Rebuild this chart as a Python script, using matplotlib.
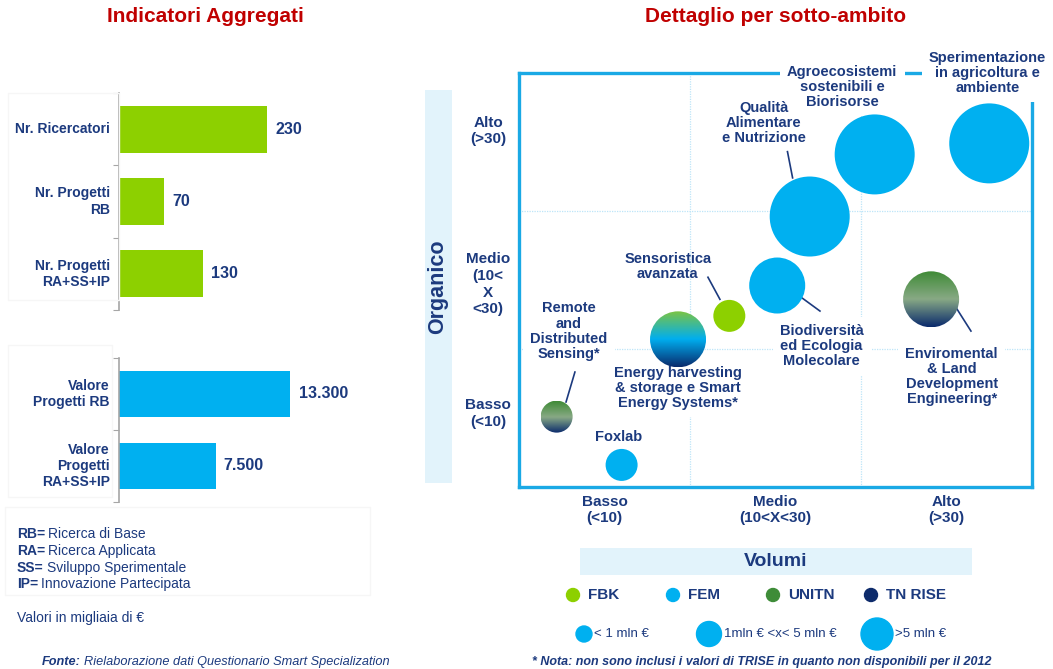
import matplotlib.pyplot as plt
import numpy as np
from matplotlib.patches import Rectangle, Circle, Ellipse
from matplotlib.colors import LinearSegmentedColormap

plt.rcParams['font.family'] = ['Liberation Sans', 'DejaVu Sans']

# dati - indicatori aggregati
count_labels = ['Nr. Ricercatori', 'Nr. Progetti\nRB', 'Nr. Progetti\nRA+SS+IP']
count_values = [230, 70, 130]

value_labels = ['Valore\nProgetti RB', 'Valore\nProgetti\nRA+SS+IP']
value_values = [13300, 7500]  # migliaia di euro

# dati - dettaglio per sotto-ambito (volumi x organico, scala 0-3)
areas = ['Sperimentazione\nin agricoltura e\nambiente',
         'Agroecosistemi\nsostenibili e\nBiorisorse',
         'Qualità\nAlimentare\ne Nutrizione',
         'Biodiversità\ned Ecologia\nMolecolare',
         'Sensoristica\navanzata',
         'Energy harvesting\n& storage e Smart\nEnergy Systems*',
         'Enviromental\n& Land\nDevelopment\nEngineering*',
         'Remote\nand\nDistributed\nSensing*',
         'Foxlab']
area_x = [2.75, 2.08, 1.70, 1.51, 1.23, 0.93, 2.41, 0.22, 0.60]
area_y = [2.49, 2.41, 1.96, 1.46, 1.24, 1.07, 1.36, 0.51, 0.16]
area_vol = [3, 3, 3, 2, 1, 2, 2, 1, 1]  # 1: <1 mln, 2: 1-5 mln, 3: >5 mln
area_owner = ['FEM', 'FEM', 'FEM', 'FEM', 'FBK', 'FBK+FEM+TN RISE',
              'UNITN+TN RISE', 'UNITN+TN RISE', 'FEM']

x_levels = ['Basso\n(<10)', 'Medio\n(10<X<30)', 'Alto\n(>30)']
y_levels = ['Basso\n(<10)', 'Medio\n(10<\nX\n<30)', 'Alto\n(>30)']

owners = ['FBK', 'FEM', 'UNITN', 'TN RISE']
vol_classes = ['< 1 mln €', '1mln € <x< 5 mln €', '>5 mln €']

legend_terms = [('RB=', 'Ricerca di Base'), ('RA=', 'Ricerca Applicata'),
                ('SS=', 'Sviluppo Sperimentale'), ('IP=', 'Innovazione Partecipata')]

# stile
NAVY = '#1C3A7E'
RED = '#C00000'
GREEN = '#8DD000'
CYAN = '#00B0F0'
FRAME = '#1AA9E5'
PALE = '#E2F3FB'
owner_colors = {'FBK': GREEN, 'FEM': CYAN, 'UNITN': '#3E8C38', 'TN RISE': '#0D2B6B'}
gradients = {'FBK+FEM+TN RISE': ['#7CC443', '#00AEEF', '#0A2A6C'],
             'UNITN+TN RISE': ['#3F8B36', '#88A985', '#0A2A6C']}
vol_radius = {1: 16, 2: 28, 3: 40}  # px

# posizioni etichette (unita' del quadrante) e linee di richiamo
label_pos = [(2.74, 3.0), (1.89, 2.9), (1.43, 2.64), (1.77, 1.02), (0.87, 1.60),
             (0.93, 0.72), (2.53, 0.80), (0.29, 1.13), (0.58, 0.36)]
no_box = {2, 4, 8}  # etichette senza sfondo bianco
leaders = {2: ((1.57, 2.43), (1.60, 2.24)), 4: ((1.105, 1.52), (1.175, 1.36)),
           3: ((1.632, 1.391), (1.76, 1.275)), 6: ((2.561, 1.29), (2.643, 1.13)),
           7: ((0.327, 0.833), (0.275, 0.616))}

W, H = 1053, 669
fig = plt.figure(figsize=(W / 100, H / 100), dpi=100)


def px_axes(x0, y0, x1, y1, **kw):
    return fig.add_axes([x0 / W, 1 - y1 / H, (x1 - x0) / W, (y1 - y0) / H], **kw)


def bar_panel(box, labels, values, color, xmax):
    ax = px_axes(*box)
    n = len(values)
    pos = np.arange(n)
    ax.barh(pos, values, height=0.65, color=color)
    ax.set_ylim(n - 0.5, -0.5)
    ax.set_xlim(0, xmax)
    for s in ['top', 'right', 'bottom']:
        ax.spines[s].set_visible(False)
    ax.spines['left'].set_color('#A6A6A6')
    ax.spines['left'].set_linewidth(1.2)
    ax.set_xticks([])
    ax.set_yticks(np.arange(n + 1) - 0.5)
    ax.set_yticklabels([])
    ax.tick_params(axis='y', length=4, color='#A6A6A6')
    ax.patch.set_visible(False)
    tr = ax.get_yaxis_transform()
    for p, lab, v in zip(pos, labels, values):
        ax.text(-0.036, p, lab, transform=tr, ha='right', va='center',
                fontsize=10, fontweight='bold', color=NAVY, linespacing=1.2)
        ax.annotate(f'{v:,}'.replace(',', '.'), (v, p), xytext=(6, 0),
                    textcoords='offset points', va='center', ha='left',
                    fontsize=11.5, fontweight='bold', color=NAVY)
    return ax


bar_panel((119, 93, 370, 310), count_labels, count_values, GREEN, 390)
bar_panel((119, 358, 370, 502), value_labels, value_values, CYAN, 19500)

# quadrante
axq = px_axes(519, 73, 1032, 487)
axq.set_xlim(0, 3)
axq.set_ylim(0, 3)
axq.set_xticks([])
axq.set_yticks([])
for s in axq.spines.values():
    s.set_color(FRAME)
    s.set_linewidth(2.4)
for v in [1, 2]:
    axq.axvline(v, color='#BDE5F8', lw=0.9, ls=(0, (1, 1)), zorder=0)
    axq.axhline(v, color='#BDE5F8', lw=0.9, ls=(0, (1, 1)), zorder=0)

ux = (1032 - 519) / 3
uy = (487 - 73) / 3
for i, (x, y, vol, own) in enumerate(zip(area_x, area_y, area_vol, area_owner)):
    r = vol_radius[vol]
    w, h = 2 * r / ux, 2 * r / uy
    if own in owner_colors:
        axq.add_patch(Ellipse((x, y), w, h, facecolor=owner_colors[own],
                              edgecolor='none', zorder=5))
    else:
        e = Ellipse((x, y), w, h, facecolor='none', edgecolor='none', zorder=5)
        axq.add_patch(e)
        cmap = LinearSegmentedColormap.from_list(own, gradients[own])
        grad = np.linspace(0, 1, 256).reshape(-1, 1)
        im = axq.imshow(grad, cmap=cmap, aspect='auto', origin='upper',
                        extent=[x - w / 2, x + w / 2, y - h / 2, y + h / 2], zorder=5)
        im.set_clip_path(e)

axq.set_xlim(0, 3)
axq.set_ylim(0, 3)

for i, lab in enumerate(areas):
    lx, ly = label_pos[i]
    box = None if i in no_box else dict(facecolor='white', edgecolor='none',
                                        boxstyle='square,pad=0.5')
    axq.text(lx, ly, lab, ha='center', va='center', fontsize=10.5, fontweight='bold',
             color=NAVY, linespacing=1.1, zorder=3, bbox=box)
for i, (a, b) in leaders.items():
    axq.plot([a[0], b[0]], [a[1], b[1]], color=NAVY, lw=1.2, zorder=4, clip_on=False)

for k, lab in enumerate(x_levels):
    axq.text(k + 0.5, -0.167, lab, ha='center', va='center', fontsize=11,
             fontweight='bold', color=NAVY, linespacing=1.2)
ylab_pos = [0.53, 1.47, 2.58]
for lab, yp in zip(y_levels, ylab_pos):
    axq.text(-0.06, yp, lab, transform=axq.get_yaxis_transform(), ha='center',
             va='center', fontsize=11, fontweight='bold', color=NAVY, linespacing=1.25)

# sovrapposizione per titoli e legende (coordinate in px)
ov = fig.add_axes([0, 0, 1, 1], zorder=10)
ov.set_xlim(0, W)
ov.set_ylim(H, 0)
ov.axis('off')
ov.patch.set_alpha(0)

ov.text(205, 17, 'Indicatori Aggregati', ha='center', va='center', color=RED,
        fontsize=15, fontweight='bold')
ov.text(776, 17, 'Dettaglio per sotto-ambito', ha='center', va='center', color=RED,
        fontsize=15, fontweight='bold')

for (x0, y0, x1, y1) in [(8, 93, 119, 300), (8, 345, 112, 497), (5, 507, 370, 595)]:
    ov.add_patch(Rectangle((x0, y0), x1 - x0, y1 - y0, facecolor='none',
                           edgecolor='#F6F6F6', lw=1))

ov.add_patch(Rectangle((425, 90), 27, 393, facecolor=PALE, edgecolor='none'))
ov.text(438, 287, 'Organico', rotation=90, ha='center', va='center', fontsize=15.5,
        fontweight='bold', color=NAVY)

ov.add_patch(Rectangle((580, 548), 392, 27, facecolor=PALE, edgecolor='none'))
ov.text(776, 562, 'Volumi', ha='center', va='center', fontsize=14,
        fontweight='bold', color=NAVY)

dot_x = [573, 673, 773, 871]
for name, dx in zip(owners, dot_x):
    ov.add_patch(Circle((dx, 595), 6.5, color=owner_colors[name]))
    ov.text(dx + 15, 595, name, ha='left', va='center', fontsize=11,
            fontweight='bold', color=NAVY)

size_x = [584, 709, 877]
size_r = [8, 12.5, 16]
for lab, sx, sr in zip(vol_classes, size_x, size_r):
    ov.add_patch(Circle((sx, 634), sr, color=CYAN))
    ov.text(sx + sr + 2, 634, lab, ha='left', va='center', fontsize=9.5, color=NAVY)

ov.text(532, 662, '* Nota: non sono inclusi i valori di TRISE in quanto non disponibili per il 2012',
        ha='left', va='center', fontsize=9, fontweight='bold', style='italic', color=NAVY)

renderer = fig.canvas.get_renderer()


def two_part(x, y, first, second, size, style='normal'):
    t = ov.text(x, y, first, ha='left', va='center', fontsize=size,
                fontweight='bold', style=style, color=NAVY)
    bb = t.get_window_extent(renderer=renderer)
    x_end = ov.transData.inverted().transform((bb.x1, bb.y0))[0]
    ov.text(x_end + 3, y, second, ha='left', va='center', fontsize=size,
            style=style, color=NAVY)


for k, (key, desc) in enumerate(legend_terms):
    two_part(17, 534 + k * 16.8, key, desc, 10)

ov.text(17, 618, 'Valori in migliaia di €', ha='left', va='center', fontsize=10, color=NAVY)
two_part(42, 662, 'Fonte:', 'Rielaborazione dati Questionario Smart Specialization', 9.2, 'italic')

fig.savefig('out.png', dpi=100)
